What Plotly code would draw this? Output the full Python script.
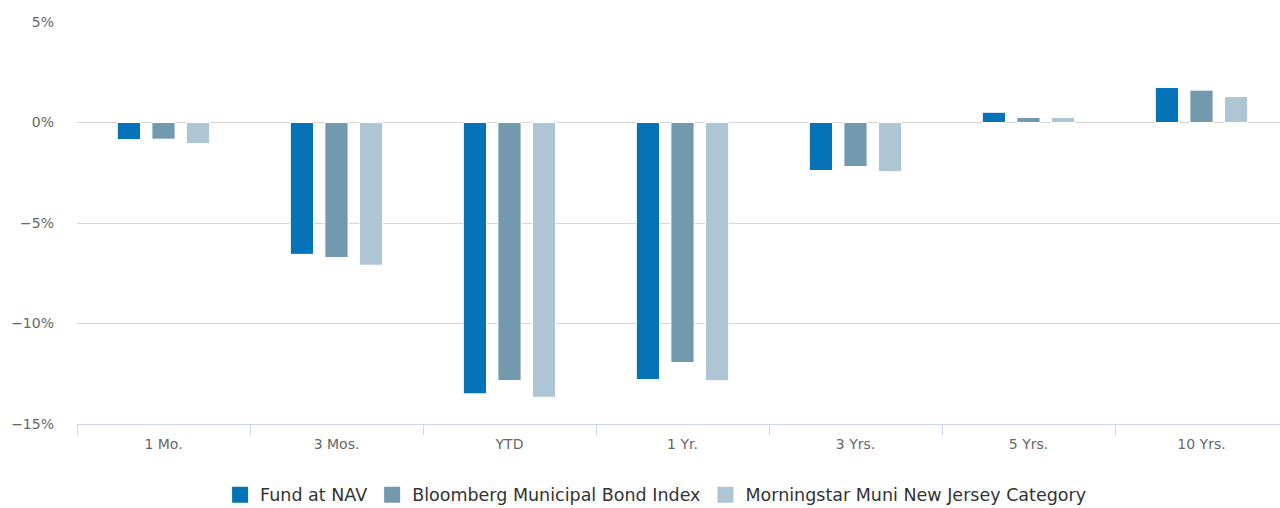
import plotly.graph_objects as go

categories = ["1 Mo.", "3 Mos.", "YTD", "1 Yr.", "3 Yrs.", "5 Yrs.", "10 Yrs."]
fund_nav = [-0.85, -6.56, -13.50, -12.79, -2.39, 0.51, 1.74]
bloomberg_index = [-0.83, -6.72, -12.84, -11.94, -2.19, 0.25, 1.61]
morningstar_cat = [-1.05, -7.10, -13.67, -12.85, -2.45, 0.25, 1.29]

series_names = ["Fund at NAV", "Bloomberg Municipal Bond Index", "Morningstar Muni New Jersey Category"]
series_values = [fund_nav, bloomberg_index, morningstar_cat]
series_colors = ["#0673b8", "#7399ae", "#aec6d3"]

y_ticks = [-15, -10, -5, 0, 5]
y_tick_text = ["\u221215%", "\u221210%", "\u22125%", "0%", "5%"]

FONT = "DejaVu Sans, sans-serif"

fig = go.Figure()
for name, vals, col in zip(series_names, series_values, series_colors):
    fig.add_trace(go.Bar(
        x=categories, y=vals, name=name,
        marker=dict(color=col, line=dict(color="#ffffff", width=1)),
        showlegend=False, legendgroup=name,
    ))
# legend entries with larger square swatches
for name, col in zip(series_names, series_colors):
    fig.add_trace(go.Scatter(
        x=[None], y=[None], mode="markers", name=name, legendgroup=name,
        marker=dict(symbol="square", size=16, color=col),
        showlegend=True,
    ))

# the reference plot area runs slightly past the right edge of the window
fig.update_layout(
    width=1288, height=508,
    margin=dict(l=77, r=0, t=22, b=84, autoexpand=False),
    barmode="group",
    bargap=0.40,
    bargroupgap=0.33,
    paper_bgcolor="#ffffff",
    plot_bgcolor="#ffffff",
    font=dict(family=FONT, size=14, color="#666666"),
    showlegend=True,
    legend=dict(
        orientation="h",
        xref="container", x=0.509, xanchor="center",
        yref="container", y=0.026, yanchor="middle",
        font=dict(family=FONT, size=17.5, color="#333333"),
        itemsizing="trace",
        traceorder="normal",
    ),
    xaxis=dict(
        type="category",
        automargin=False,
        showgrid=False,
        showline=True, linecolor="#ccd6eb", linewidth=1,
        ticks="outside", tickson="boundaries", ticklen=10, tickcolor="#ccd6eb", tickwidth=1,
        ticklabelstandoff=7,
        tickfont=dict(family=FONT, size=14, color="#666666"),
        zeroline=False,
    ),
    yaxis=dict(
        automargin=False,
        range=[-15, 5],
        tickmode="array",
        tickvals=y_ticks,
        ticktext=y_tick_text,
        showgrid=True, gridcolor="#d6d6d6", gridwidth=1,
        zeroline=False,
        showline=False,
        ticks="",
        ticklabelstandoff=22,
        tickfont=dict(family=FONT, size=14, color="#666666"),
    ),
)

# remove the default page margin so the figure is placed at the window's top-left corner
post = "document.body.style.margin='0';document.body.style.overflow='hidden';"
fig.write_html("out.html", post_script=post, config={"displayModeBar": False})
